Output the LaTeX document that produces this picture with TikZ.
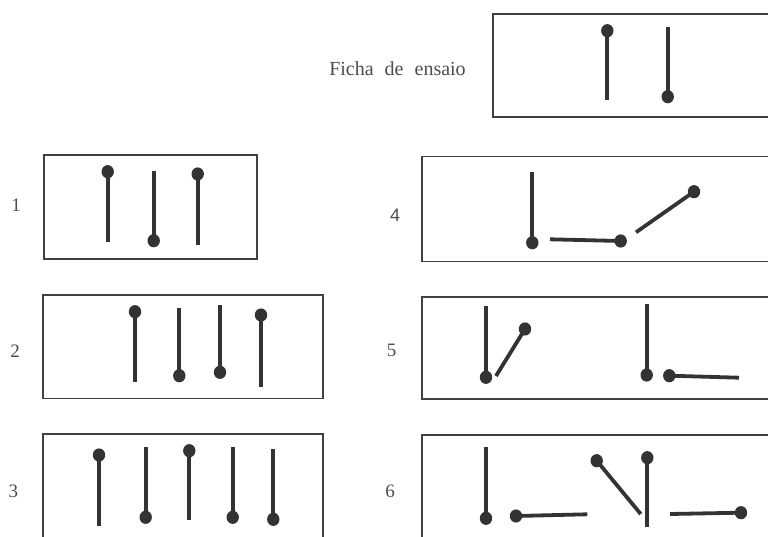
\documentclass[tikz,border=0pt]{standalone}
\usepackage{fontspec}
\setmainfont{Liberation Serif}
\newfontfamily\digitsans{Liberation Sans}
\begin{document}
\begin{tikzpicture}[x=1pt,y=-1pt,
  frame/.style={draw=black!75,line width=1.8pt},
  stick/.style={draw=black!80,line width=3.8pt},
  head/.style={fill=black!80},
  lbl/.style={text=black!70,font=\fontsize{19}{22}\selectfont,inner sep=0pt}]
\useasboundingbox (0,0) rectangle (768,537);
\clip (0,0) rectangle (768,537);
\newcommand\matchstick[2]{\draw[stick] (#2) -- (#1); \fill[head] (#1) ellipse [x radius=6.2, y radius=6.6];}
% Ficha de ensaio
\node[lbl,font=\fontsize{20}{24}\selectfont] (ficha) at (397.5,69) {Ficha\hspace{6pt} de\hspace{6pt} ensaio};
\draw[frame] (493,14) rectangle (790,117);
\matchstick{607.3,30.7}{607.3,100}
\matchstick{667.7,96.7}{667.7,26.7}
% 1
\node[lbl] (l1) at (16,205) {1};
\draw[frame] (44.3,155) rectangle (256.7,259);
\matchstick{107.7,171.7}{107.7,241.7}
\matchstick{153.7,240.7}{153.7,170.7}
\matchstick{197.7,174}{197.7,245}
% 2
\node[lbl] (l2) at (15,351) {2};
\draw[frame] (43.3,295) rectangle (322.7,398.5);
\matchstick{135,311.7}{135,381.7}
\matchstick{179.3,375.7}{179.3,308.3}
\matchstick{220,372.3}{220,305}
\matchstick{261,315}{261,386.7}
% 3
\node[lbl] (l3) at (13.5,491.5) {3};
\draw[frame] (43.3,434) rectangle (323.3,560);
\matchstick{99,455}{99,526}
\matchstick{145.7,517.3}{145.7,446.7}
\matchstick{189.3,450.7}{189.3,520}
\matchstick{232.7,517.3}{232.7,446.7}
\matchstick{273.3,519.3}{273.3,449.3}
% 4
\node[lbl,font=\digitsans\fontsize{18}{22}\selectfont] (l4) at (395,215) {4};
\draw[frame] (421.7,156.5) rectangle (790,261.5);
\matchstick{532.3,242.7}{532.3,171.7}
\matchstick{620.7,241}{550,239.3}
\matchstick{694,191.7}{636,232.3}
% 5
\node[lbl] (l5) at (391.7,350.7) {5};
\draw[frame] (421.7,296.7) rectangle (790,399);
\matchstick{486,377.3}{486,306}
\matchstick{525,329}{496,376}
\matchstick{646.7,375}{646.7,304}
\matchstick{669.3,375.7}{739,377.7}
% 6
\node[lbl] (l6) at (390,491.7) {6};
\draw[frame] (421.7,435) rectangle (790,560);
\matchstick{486,518.3}{486,447.3}
\matchstick{516,516}{587.3,514.3}
\matchstick{596.7,460.7}{640.7,514}
\matchstick{647.3,457.7}{647.3,527.3}
\matchstick{741,512.7}{670,514}
\end{tikzpicture}
\end{document}
